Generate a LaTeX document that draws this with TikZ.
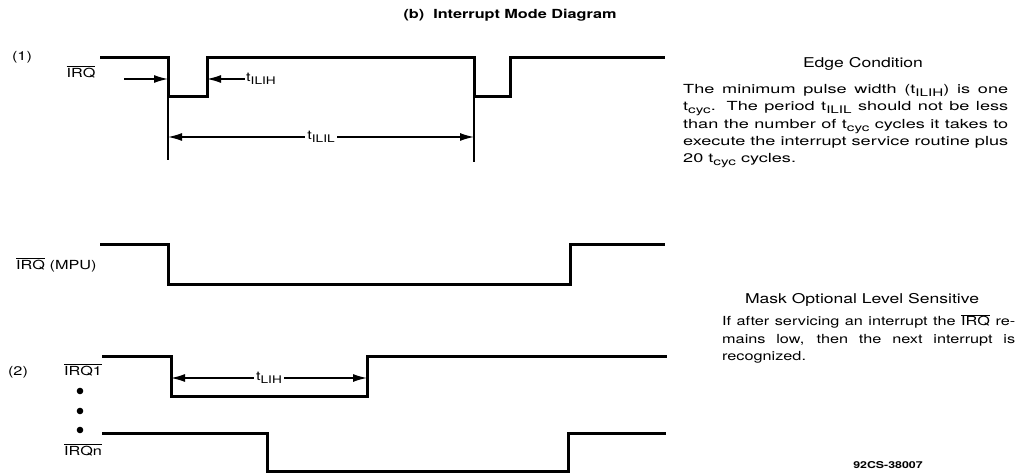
\documentclass[tikz,border=0pt]{standalone}
\usepackage{fontspec}
\setmainfont{TeX Gyre Heros}
\newfontfamily\diagfont[FakeStretch=1.3]{TeX Gyre Heros}
\newfontfamily\diagwide[FakeStretch=1.45]{TeX Gyre Heros}
\usetikzlibrary{arrows.meta}
\newcommand{\ovl}[1]{$\overline{\hbox{#1}}$}
\newcommand{\lsub}[1]{\raisebox{-0.45ex}{\fontsize{10.5}{10.5}\selectfont #1}}

\begin{document}
\begin{tikzpicture}[x=1pt, y=-1pt,
    signal/.style={line width=3pt, line join=miter},
    guide/.style={line width=1.4pt},
    rarrow/.style={line width=1.4pt, -{Latex[length=14pt,width=8pt]}},
    dimarrow/.style={line width=1.4pt, {Latex[length=14pt,width=8pt]}-{Latex[length=14pt,width=8pt]}},
    lbl/.style={font=\diagfont\fontsize{12.5}{12.5}\selectfont, inner sep=1pt},
    tlbl/.style={font=\diagfont\fontsize{12.5}{12.5}\selectfont, fill=white, inner sep=2pt},
    heading/.style={font=\diagfont\fontsize{13.5}{13.5}\selectfont, inner sep=0pt},
    note/.style={inner sep=0pt, anchor=north west, align=justify}
]
\useasboundingbox (0,0) rectangle (1019,473);

\node[font=\diagfont\bfseries\fontsize{12.5}{12.5}\selectfont] (title) at (510,15) {(b)\ \ Interrupt Mode Diagram};

% (1) edge triggered
\node[lbl] (n1) at (22,57) {(1)};
\node[lbl] (irq) at (81,72) {\ovl{IRQ}};
\draw[signal] (100,58) -- (168,58) -- (168,97) -- (207,97) -- (207,58) -- (474,58) -- (474,97) -- (510,97) -- (510,58) -- (665,58);
\draw[guide] (168,97) -- (168,160);
\draw[guide] (474,97) -- (474,162);

\coordinate (ain) at (124,79);
\coordinate (fall1) at (168,79);
\coordinate (rise1) at (207,79);
\node[lbl, anchor=west] (tilih) at (245,79) {t\lsub{ILIH}};
\draw[rarrow] (ain) -- (fall1);
\draw[rarrow] (tilih.west) -- (rise1);

\coordinate (pl) at (168,137);
\coordinate (pr) at (474,137);
\draw[dimarrow] (pl) -- (pr) node[midway, tlbl] (tilil) {t\lsub{ILIL}};

\node[heading] (edge) at (863,64) {Edge Condition};
\node[note, text width=325pt, font=\diagwide\fontsize{12.5}{17.4}\selectfont] (edgetxt) at (683,84)
  {The minimum pulse width (t\lsub{ILIH}) is one\linebreak
   t\lsub{cyc}. The period t\lsub{ILIL} should not be less\linebreak
   than the number of t\lsub{cyc} cycles it takes to\linebreak
   execute the interrupt service routine plus\linebreak
   20 t\lsub{cyc} cycles.};

% MPU input
\node[lbl, anchor=west] (mpu) at (15,265) {\ovl{IRQ} (MPU)};
\draw[signal] (100,244) -- (168,244) -- (168,284) -- (570,284) -- (570,244) -- (665,244);

% (2) level sensitive
\node[lbl] (n2) at (18,372) {(2)};
\node[lbl] (irq1) at (83,370) {\ovl{IRQ1}};
\node[lbl] (irqn) at (83,450) {\ovl{IRQn}};
\foreach \y in {391,411,430}
  \fill (80,\y) circle (3.3pt);
\draw[signal] (102,356) -- (171,356) -- (171,396) -- (367,396) -- (367,356) -- (667,356);
\draw[signal] (102,433) -- (267,433) -- (267,471) -- (568,471) -- (568,433) -- (666,433);

\coordinate (ql) at (171,378);
\coordinate (qr) at (367,378);
\draw[dimarrow] (ql) -- (qr) node[midway, tlbl] (tlih) {t\lsub{LIH}};

\node[heading] (mask) at (862,300) {Mask Optional Level Sensitive};
\node[note, text width=293pt, font=\diagfont\fontsize{12.5}{17.6}\selectfont] (masktxt) at (722,314)
  {If after servicing an interrupt the \ovl{IRQ} re-\linebreak
   mains low, then the next interrupt is\linebreak
   recognized.};

\node[font=\diagfont\bfseries\fontsize{9.5}{9.5}\selectfont] (fig) at (888,465) {92CS-38007};

\end{tikzpicture}
\end{document}
